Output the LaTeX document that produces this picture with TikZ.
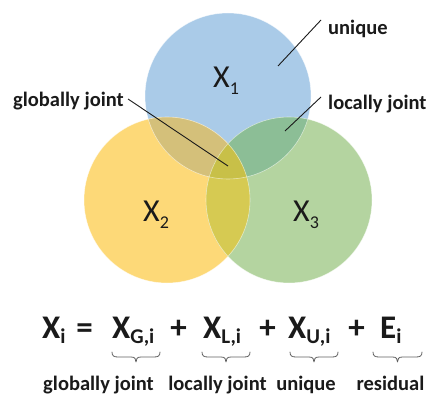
\documentclass[tikz,border=0pt]{standalone}
\usepackage{fontspec}
\setmainfont{Carlito}
\usetikzlibrary{calc}
\definecolor{cblue}{HTML}{AACBE8}
\definecolor{cyellow}{HTML}{FDD978}
\definecolor{cgreen}{HTML}{B4D4A0}
\definecolor{cby}{HTML}{D4C07A}
\definecolor{cbg}{HTML}{8CBE96}
\definecolor{cyg}{HTML}{D6CA52}
\definecolor{call}{HTML}{C8C048}
\definecolor{ink}{HTML}{1A1A1A}
\tikzset{
  lbl/.style={font=\fontsize{20.5}{20.5}\selectfont\bfseries, text=ink, inner sep=0pt},
  circlbl/.style={font=\fontsize{32}{32}\selectfont, text=ink, inner sep=0pt, anchor=base west},
  eq/.style={font=\fontsize{33}{33}\selectfont\bfseries, text=ink, inner sep=0pt, anchor=base west},
  eqop/.style={font=\fontsize{33}{33}\selectfont\bfseries, text=ink, inner sep=0pt, anchor=base},
  pointer/.style={draw=ink, line width=0.9pt},
  brc/.style={draw=ink!70, line width=0.8pt, line cap=round, line join=round},
}
\newcommand\csub[1]{\lower7pt\hbox{\fontsize{18}{18}\selectfont #1}}
\newcommand\esub[1]{\lower5pt\hbox{\fontsize{21}{21}\selectfont\bfseries #1}}
% under-brace between two named coordinates (y grows downward)
\newcommand\ubrace[2]{%
  \draw[brc] (#1) .. controls ($(#1)+(0,4)$) and ($(#1)+(2,5)$) .. ($(#1)+(6,5)$)
    -- ($(#1)!0.5!(#2)+(-5,5)$)
    .. controls ($(#1)!0.5!(#2)+(-1,5)$) and ($(#1)!0.5!(#2)+(0,7)$) .. ($(#1)!0.5!(#2)+(0,10)$)
    .. controls ($(#1)!0.5!(#2)+(0,7)$) and ($(#1)!0.5!(#2)+(1,5)$) .. ($(#1)!0.5!(#2)+(5,5)$)
    -- ($(#2)+(-6,5)$)
    .. controls ($(#2)+(-2,5)$) and ($(#2)+(0,4)$) .. (#2);}
\begin{document}
\begin{tikzpicture}[x=1pt,y=-1pt]
\useasboundingbox (0,0) rectangle (427,395);
\coordinate (c1) at (228,96);
\coordinate (c2) at (167,200);
\coordinate (c3) at (289,200);
\def\R{83}
% base circles
\fill[cblue] (c1) circle (\R);
\fill[cyellow] (c2) circle (\R);
\fill[cgreen] (c3) circle (\R);
% pairwise overlaps
\begin{scope}
  \clip (c1) circle (\R);
  \fill[cby] (c2) circle (\R);
  \fill[cbg] (c3) circle (\R);
\end{scope}
\begin{scope}
  \clip (c2) circle (\R);
  \fill[cyg] (c3) circle (\R);
  \clip (c3) circle (\R);
  \fill[call] (c1) circle (\R);
\end{scope}
% faint light edges
\draw[white, opacity=0.55, line width=0.6pt] (c1) circle (\R) (c2) circle (\R) (c3) circle (\R);
% circle labels
\node[circlbl] (x1) at (213,88) {X\csub{1}};
\node[circlbl] (x2) at (143,221) {X\csub{2}};
\node[circlbl] (x3) at (293,221) {X\csub{3}};
% annotation labels
\node[lbl, anchor=base west] (lu) at (328,35) {unique};
\node[lbl, anchor=base west] (ll) at (328,110) {locally joint};
\node[lbl, anchor=base west] (lg) at (13,107) {globally joint};
\coordinate (pu1) at (321,20);
\coordinate (pu2) at (278,66);
\coordinate (pl1) at (321,97);
\coordinate (pl2) at (285,131);
\coordinate (pg1) at (128,99);
\coordinate (pg2) at (228,166);
\draw[pointer] (pu1) -- (pu2);
\draw[pointer] (pl1) -- (pl2);
\draw[pointer] (pg1) -- (pg2);
% equation
\node[eq] (xi) at (42,338) {X\esub{i}};
\node[eqop] (eqs) at (84.5,338) {=};
\node[eq] (xg) at (112,338) {X\esub{G,i}};
\node[eqop] (p1) at (178.5,338) {+};
\node[eq] (xl) at (203,338) {X\esub{L,i}};
\node[eqop] (p2) at (267.5,338) {+};
\node[eq] (xu) at (288,338) {X\esub{U,i}};
\node[eqop] (p3) at (356.5,338) {+};
\node[eq] (ei) at (380,338) {E\esub{i}};
% braces
\coordinate (bgl) at (112,352); \coordinate (bgr) at (160,352);
\coordinate (bll) at (202,352); \coordinate (blr) at (250,352);
\coordinate (bul) at (290,352); \coordinate (bur) at (338,352);
\coordinate (bel) at (373,352); \coordinate (ber) at (422,352);
\ubrace{bgl}{bgr}
\ubrace{bll}{blr}
\ubrace{bul}{bur}
\ubrace{bel}{ber}
% bottom labels
\node[lbl, anchor=base] (bg) at (98.5,390) {globally joint};
\node[lbl, anchor=base] (bl) at (217.5,390) {locally joint};
\node[lbl, anchor=base] (bu) at (306,390) {unique};
\node[lbl, anchor=base] (br) at (390.5,390) {residual};
\end{tikzpicture}
\end{document}
